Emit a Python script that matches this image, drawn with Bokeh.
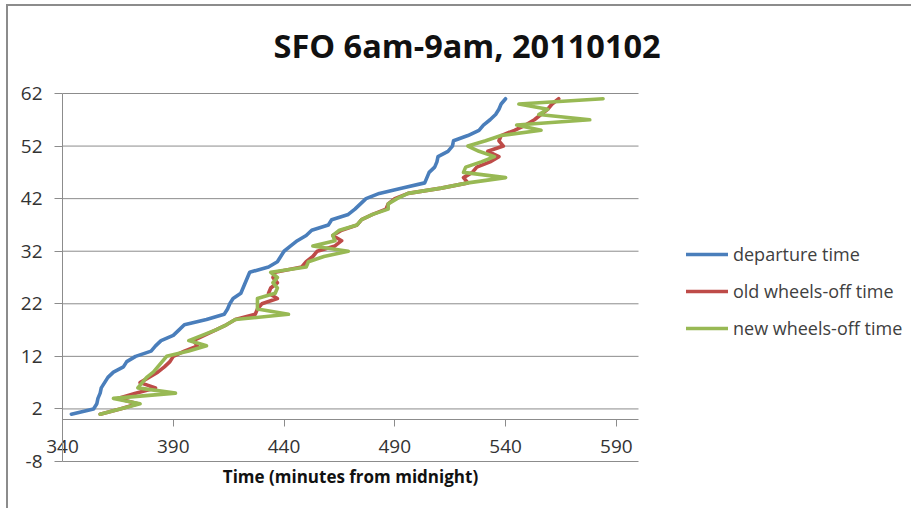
from bokeh.plotting import figure
from bokeh.models import Range1d, FixedTicker, Legend, LegendItem, PrintfTickFormatter
from bokeh.embed import file_html
from bokeh.resources import INLINE

flights = list(range(1, 62))
departure = [344, 354, 355.5, 356, 357, 357.5, 359, 360.5, 363, 367.5,
             369, 373, 380, 382, 384.5, 390, 392.5, 395, 405, 413,
             414.5, 415.5, 417, 420.5, 421.5, 422.5, 423.5, 424.5, 433, 437,
             438.5, 440, 443, 446, 450, 452.5, 460, 461.5, 469, 472,
             474.5, 477, 483, 493, 503.5, 504.5, 505.5, 508, 509, 509.5,
             514, 516, 516.5, 523, 528, 530, 533, 535.5, 537, 538, 540]
old_wheels_off = [357, 366, 374, 365, 373, 382, 375, 379, 383, 386,
                  388.5, 390, 395, 401, 399, 404, 409, 414, 418, 427,
                  428, 430, 437, 433, 434, 437, 435, 436, 448, 450,
                  453, 455, 463, 466, 462, 466, 473, 475, 480, 486,
                  487, 490, 496, 511, 523, 521, 525, 527, 533, 537,
                  532, 539, 537, 538, 544, 549, 553, 556, 559, 561, 564]
new_wheels_off = [357, 366, 375, 363, 391, 374, 376, 378, 381, 383,
                  385, 387, 397, 405, 397, 403, 409, 414, 418, 442,
                  428, 428, 428, 436, 437, 435, 437, 434, 450, 451,
                  458, 469, 453, 463, 462, 465, 473, 475, 480, 487,
                  487, 491, 496, 511, 523, 540, 521, 522, 529, 535,
                  528, 523, 531, 538, 556, 545, 578, 555, 559, 546, 584]

x_ticks = [340, 390, 440, 490, 540, 590]
y_ticks = [-8, 2, 12, 22, 32, 42, 52, 62]
x_min, x_max = 340, 600
y_min, y_max = -8, 62
title_text = "SFO 6am-9am, 20110102"
x_label = "Time (minutes from midnight)"
series_names = ["departure time", "old wheels-off time", "new wheels-off time"]
series_colors = ["#4A7EBB", "#BE4B48", "#98B954"]

GRAY = "#8c8c8c"
FONT = "Open Sans"

# layout (pixels): the frame fills the canvas below the title; the plotted
# interval occupies AREA_W x AREA_H pixels, AREA_LEFT / AREA_TOP inside the frame.
W, H = 905, 504
TOP, RIGHT = 75, 3
AREA_LEFT, AREA_TOP, AREA_W, AREA_H = 54, 12, 576, 368
frame_w = W - RIGHT
frame_h = H - TOP
x_scale = AREA_W / (x_max - x_min)
y_scale = AREA_H / (y_max - y_min)
x_start = x_min - AREA_LEFT / x_scale
x_end = x_start + frame_w / x_scale
y_end = y_max + AREA_TOP / y_scale
y_start = y_end - frame_h / y_scale

p = figure(width=W, height=H, output_backend="svg", toolbar_location=None,
           x_range=Range1d(x_start, x_end), y_range=Range1d(y_start, y_end),
           min_border_left=0, min_border_right=RIGHT, min_border_top=TOP,
           min_border_bottom=0)
p.styles = {"margin-left": "6px", "margin-top": "4px",
            "border-left": "2px solid #8c8c8c", "border-top": "2px solid #8c8c8c"}
p.outline_line_color = None
p.background_fill_color = "white"
p.border_fill_color = "white"

# title
p.title.text = title_text
p.title.align = "left"
p.title.offset = 265
p.title.vertical_align = "top"
p.title.standoff = 24
p.title.text_font = FONT
p.title.text_font_style = "bold"
p.title.text_font_size = "32.5px"
p.title.text_color = "#111111"

# x axis crossing at y = 0
xa = p.xaxis[0]
xa.fixed_location = 0
xa.bounds = (x_min, x_max)
xa.ticker = FixedTicker(ticks=x_ticks)
xa.major_tick_out = 7
xa.major_tick_in = 0
xa.minor_tick_out = 0
xa.minor_tick_in = 0
xa.axis_line_color = GRAY
xa.major_tick_line_color = GRAY
xa.major_label_text_font = FONT
xa.major_label_text_font_size = "19px"
xa.major_label_text_color = "#333333"
xa.major_label_standoff = 14
xa.axis_label = x_label
xa.axis_label_text_font = FONT
xa.axis_label_text_font_style = "bold"
xa.axis_label_text_font_size = "17px"
xa.axis_label_text_color = "#111111"
xa.axis_label_standoff = 8

# y axis at x = 340
ya = p.yaxis[0]
ya.fixed_location = x_min
ya.bounds = (y_min, y_max)
ya.ticker = FixedTicker(ticks=y_ticks)
ya.formatter = PrintfTickFormatter(format="%d")
ya.major_tick_out = 8
ya.major_tick_in = 0
ya.minor_tick_out = 0
ya.minor_tick_in = 0
ya.axis_line_color = GRAY
ya.major_tick_line_color = GRAY
ya.major_label_text_font = FONT
ya.major_label_text_font_size = "19px"
ya.major_label_text_color = "#333333"
ya.major_label_standoff = 12

# horizontal gridlines only across the plotted interval
p.xgrid.visible = False
p.ygrid.visible = False
p.segment(x0=[x_min] * len(y_ticks), x1=[x_max] * len(y_ticks), y0=y_ticks, y1=y_ticks,
          line_color=GRAY, line_width=1, level="underlay")

renderers = []
for vals, col in zip([departure, old_wheels_off, new_wheels_off], series_colors):
    r = p.line(vals, flights, line_color=col, line_width=3.6,
               line_join="round", line_cap="round")
    renderers.append(r)

legend = Legend(items=[LegendItem(label=n, renderers=[r]) for n, r in zip(series_names, renderers)],
                location=(678, 170), glyph_width=42, glyph_height=20, label_height=20,
                spacing=13, padding=0, margin=0, border_line_color=None,
                background_fill_alpha=0, label_text_font=FONT, label_text_font_size="18px",
                label_standoff=5, label_text_color="#404040")
p.add_layout(legend)

open("out.html", "w").write(file_html(p, INLINE))
